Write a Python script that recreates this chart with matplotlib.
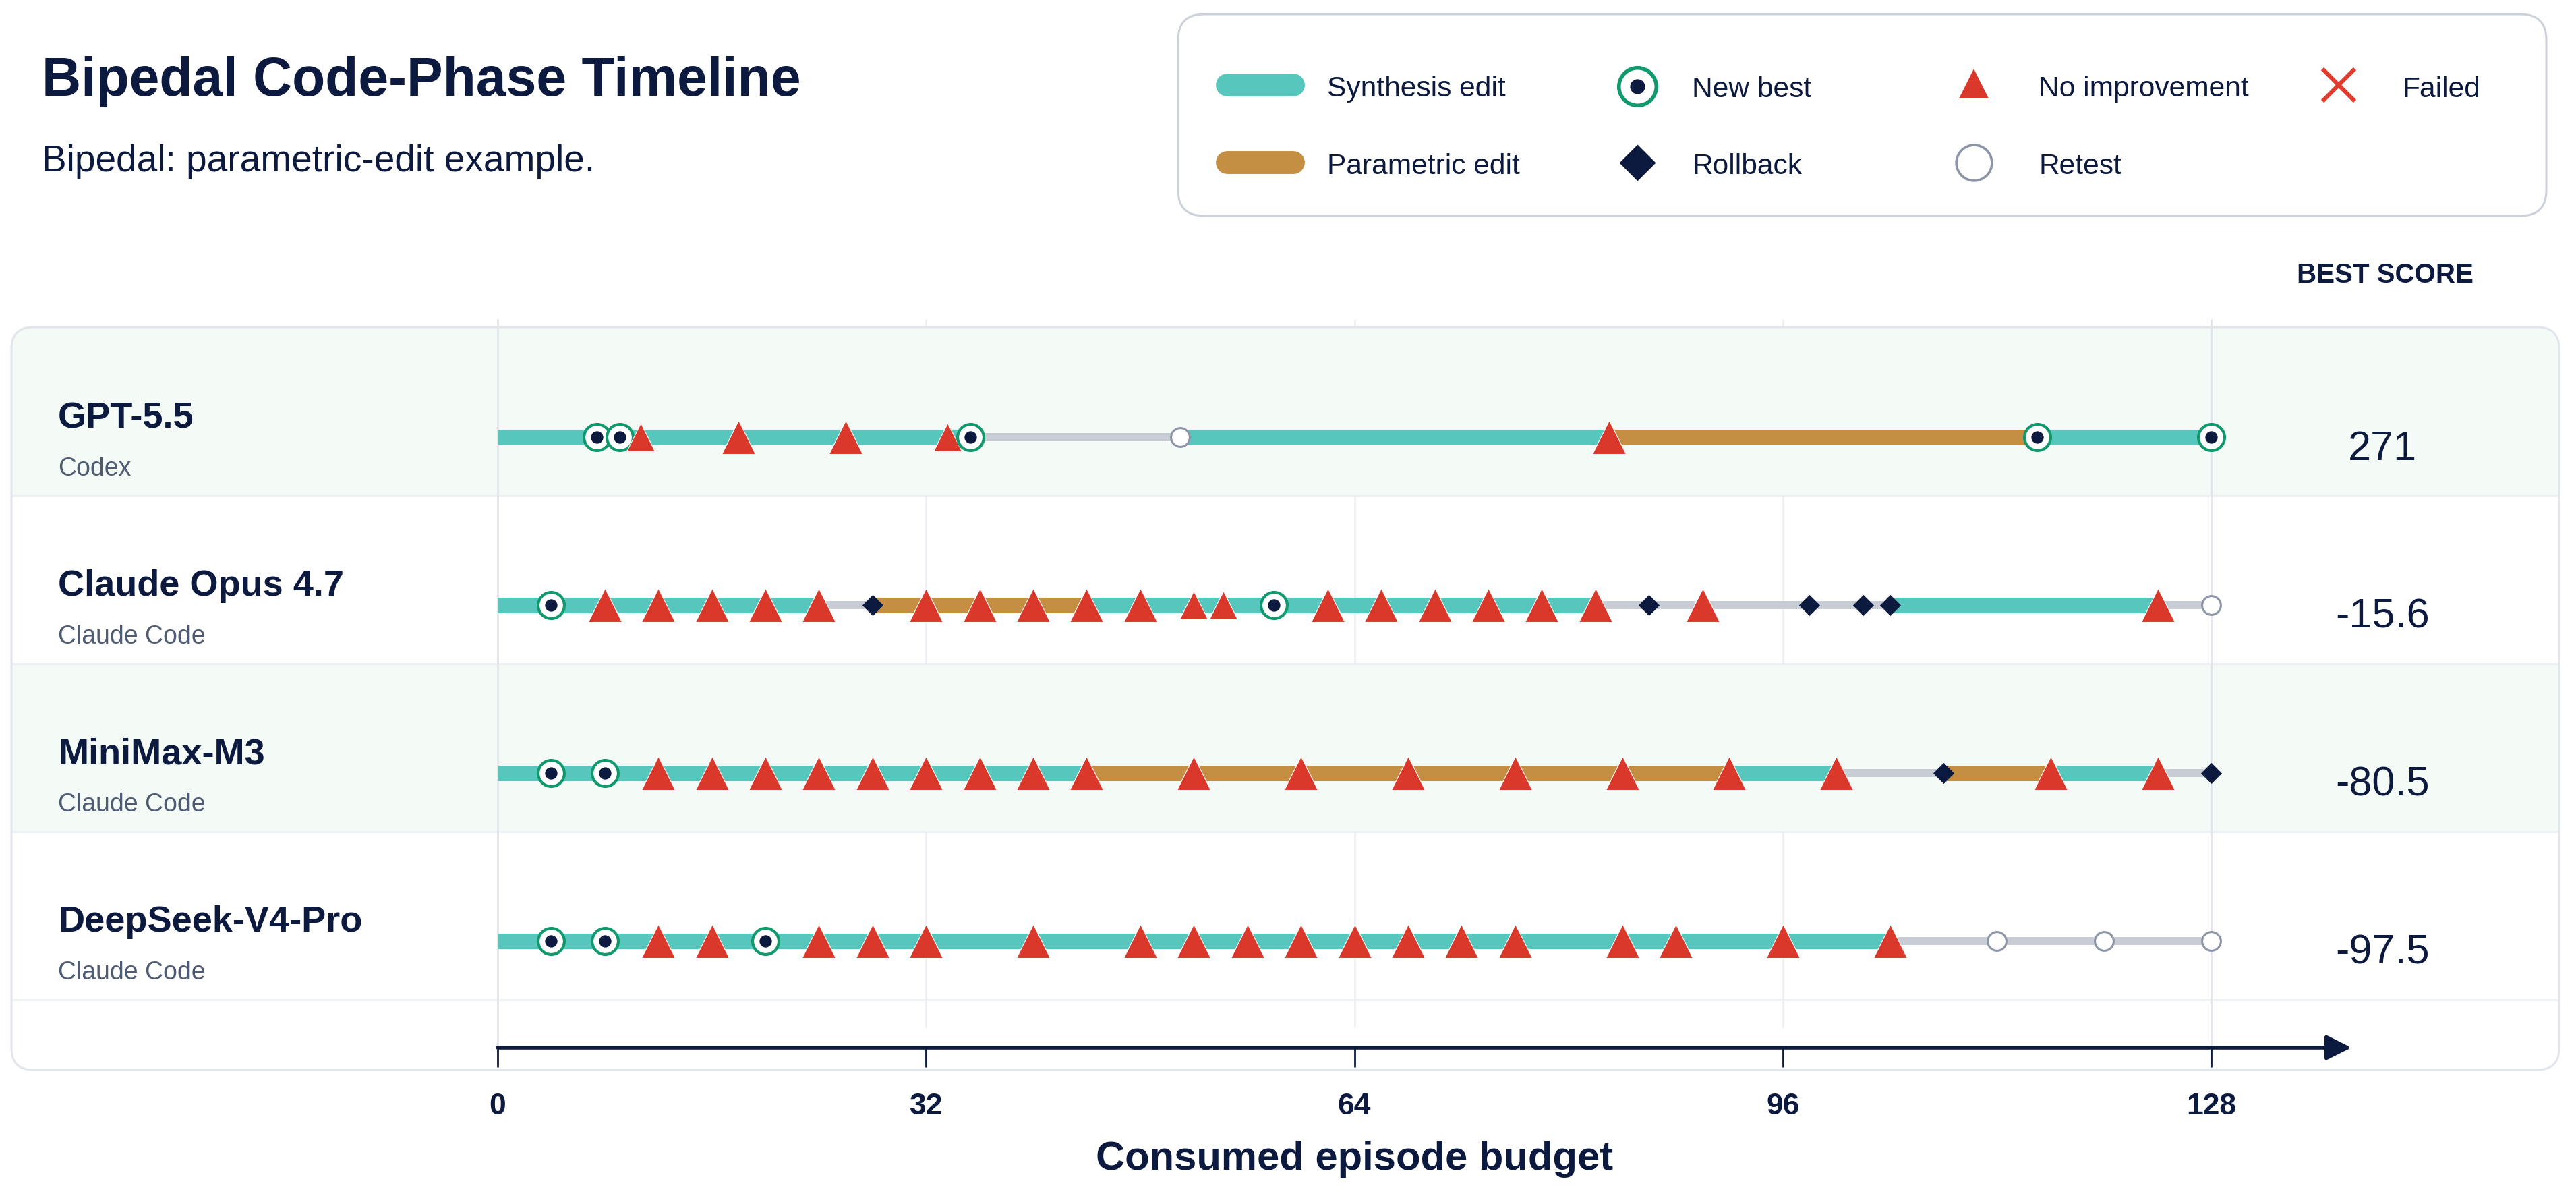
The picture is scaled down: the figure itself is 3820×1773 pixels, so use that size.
import matplotlib.pyplot as plt
from matplotlib.patches import FancyBboxPatch

plt.rcParams['font.family'] = ['Liberation Sans', 'DejaVu Sans']

# ---- data ----
models = ["GPT-5.5", "Claude Opus 4.7", "MiniMax-M3", "DeepSeek-V4-Pro"]
agents = ["Codex", "Claude Code", "Claude Code", "Claude Code"]
best_scores = ["271", "-15.6", "-80.5", "-97.5"]
x_ticks = [0, 32, 64, 96, 128]
budget = 128

# phase segments: (start, end, phase)
gpt_segments = [(0, 35.3, "synthesis"), (35.3, 51, "idle"), (51, 83, "synthesis"),
                (83, 115, "parametric"), (115, 128, "synthesis")]
opus_segments = [(0, 24, "synthesis"), (24, 28, "idle"), (28, 44, "parametric"),
                 (44, 82, "synthesis"), (82, 104, "idle"), (104, 124, "synthesis"),
                 (124, 128, "idle")]
minimax_segments = [(0, 44, "synthesis"), (44, 92, "parametric"), (92, 100, "synthesis"),
                    (100, 108, "idle"), (108, 116, "parametric"), (116, 124, "synthesis"),
                    (124, 128, "idle")]
deepseek_segments = [(0, 104, "synthesis"), (104, 128, "idle")]

# events: (consumed budget, outcome)
gpt_events = [(7.4, "best"), (9.1, "best"), (10.7, "none"), (18, "none"), (26, "none"),
              (33.6, "none"), (35.3, "best"), (51, "retest"), (83, "none"),
              (115, "best"), (128, "best")]
opus_events = [(4, "best"), (8, "none"), (12, "none"), (16, "none"), (20, "none"),
               (24, "none"), (28, "rollback"), (32, "none"), (36, "none"), (40, "none"),
               (44, "none"), (48, "none"), (52, "none"), (54.2, "none"), (58, "best"),
               (62, "none"), (66, "none"), (70, "none"), (74, "none"), (78, "none"),
               (82, "none"), (86, "rollback"), (90, "none"), (98, "rollback"),
               (102, "rollback"), (104, "rollback"), (124, "none"), (128, "retest")]
minimax_events = [(4, "best"), (8, "best"), (12, "none"), (16, "none"), (20, "none"),
                  (24, "none"), (28, "none"), (32, "none"), (36, "none"), (40, "none"),
                  (44, "none"), (52, "none"), (60, "none"), (68, "none"), (76, "none"),
                  (84, "none"), (92, "none"), (100, "none"), (108, "rollback"),
                  (116, "none"), (124, "none"), (128, "rollback")]
deepseek_events = [(4, "best"), (8, "best"), (12, "none"), (16, "none"), (20, "best"),
                   (24, "none"), (28, "none"), (32, "none"), (40, "none"), (48, "none"),
                   (52, "none"), (56, "none"), (60, "none"), (64, "none"), (68, "none"),
                   (72, "none"), (76, "none"), (84, "none"), (88, "none"), (96, "none"),
                   (104, "none"), (112, "retest"), (120, "retest"), (128, "retest")]

all_segments = [gpt_segments, opus_segments, minimax_segments, deepseek_segments]
all_events = [gpt_events, opus_events, minimax_events, deepseek_events]

# ---- styles ----
navy = "#0c1a3f"
teal = "#57c7bd"
gold = "#c58f43"
idle_grey = "#c8ccd5"
red = "#d9382b"
green = "#10996c"
retest_grey = "#8c95a7"
band = "#f4fbf7"
phase_style = {"synthesis": (teal, 8.3), "parametric": (gold, 8.3), "idle": (idle_grey, 4.3)}

W, H, DPI = 3820, 1773, 200
fig = plt.figure(figsize=(W / DPI, H / DPI), dpi=DPI)
fig.patch.set_facecolor("white")

# pixel anchors for the data axes
X0_PX, XMAX_PX = 738, 3279
ROW0_PX, ROW_STEP = 648, 249.1
sx = (XMAX_PX - X0_PX) / budget


def dx(px):
    return (px - X0_PX) / sx


def dy(py):
    return (py - ROW0_PX) / ROW_STEP


ax = fig.add_axes([0, 0, 1, 1])
ax.set_xlim(dx(0), dx(W))
ax.set_ylim(dy(H), dy(0))
ax.axis("off")

ov = fig.add_axes([0, 0, 1, 1], facecolor="none")
ov.set_xlim(0, W)
ov.set_ylim(H, 0)
ov.axis("off")

# panel
panel = FancyBboxPatch((17, 485), 3778, 1101, boxstyle="round,pad=0,rounding_size=32",
                       facecolor="none", edgecolor="#e2e6ec", lw=1.1, zorder=5)
ov.add_patch(panel)

# row bands + separators
for i in range(len(models)):
    if i % 2 == 0:
        b = ax.axhspan(i - 0.653, i + 0.349, color=band, lw=0, zorder=1)
        b.set_clip_path(panel)
    sep = ax.axhline(i + 0.349, color="#e9edf1", lw=0.9, zorder=1.2)
    sep.set_clip_path(panel)

# grid lines
for t in x_ticks:
    if t in (0, budget):
        ax.vlines(t, dy(473), dy(1553), color="#e1e5eb", lw=1.0, zorder=1.5)
    else:
        ax.vlines(t, dy(473), dy(1523), color="#eceff3", lw=0.9, zorder=0.5)

# segments
for i, segs in enumerate(all_segments):
    for s, e, phase in segs:
        c, lw = phase_style[phase]
        ax.plot([s, e], [i, i], color=c, lw=lw, solid_capstyle="butt", zorder=2)

# events
for i, evs in enumerate(all_events):
    xs = [x for x, _ in evs]
    for k, (x, kind) in enumerate(evs):
        z = 3 + k * 0.01
        if kind == "best":
            ax.plot(x, i, "o", ms=14, mfc="white", mec=green, mew=1.5, zorder=z)
            ax.plot(x, i, "o", ms=5.6, color=navy, mec=navy, zorder=z + 0.001)
        elif kind == "none":
            gap = min(abs(x - o) for o in xs if o != x)
            ms = 15 if gap < 2.5 else 18
            ax.plot(x, i, "^", ms=ms, color=red, mec="white", mew=0.4, zorder=z)
        elif kind == "rollback":
            ax.plot(x, i, "D", ms=7.8, color=navy, mec=navy, mew=0.3, zorder=z)
        elif kind == "retest":
            ax.plot(x, i, "o", ms=10, mfc="white", mec=retest_grey, mew=1.1, zorder=z)
        elif kind == "failed":
            ax.plot(x, i, "x", ms=14, color=red, mew=2, zorder=z)

# row labels and scores
for i, (m, a, sc) in enumerate(zip(models, agents, best_scores)):
    ax.text(dx(86), i - 14 / ROW_STEP, m, fontsize=19.5, fontweight="bold", color=navy,
            va="baseline", ha="left", zorder=6)
    ax.text(dx(86), i + 57 / ROW_STEP, a, fontsize=13.5, color="#4f5b73",
            va="baseline", ha="left", zorder=6)
    ax.text(dx(3533), i + 18 / ROW_STEP, sc, fontsize=22, color=navy,
            va="center", ha="center", zorder=6)

# x axis with arrow
y_axis = dy(1553)
ax.annotate("", xy=(dx(3487), y_axis), xytext=(0, y_axis),
            arrowprops=dict(arrowstyle="-|>", color=navy, lw=2.0, mutation_scale=28,
                            shrinkA=0, shrinkB=0), zorder=6)
ax.vlines(x_ticks, y_axis, dy(1582), color=navy, lw=1.0, zorder=6)
for t in x_ticks:
    ax.text(t, dy(1641), str(t), fontsize=16, fontweight="bold", color=navy,
            ha="center", va="center")
ax.text(budget / 2, dy(1718), "Consumed episode budget", fontsize=21.5, fontweight="bold",
        color=navy, ha="center", va="center")

# title block
ov.text(62, 142, "Bipedal Code-Phase Timeline", fontsize=29, fontweight="bold",
        color=navy, va="baseline", ha="left")
ov.text(62, 254, "Bipedal: parametric-edit example.", fontsize=19.8, color=navy,
        va="baseline", ha="left")
ov.text(3537, 408, "BEST SCORE", fontsize=14.5, fontweight="bold", color=navy,
        ha="center", va="center")

# legend box
ov.add_patch(FancyBboxPatch((1747, 21), 2029, 299, boxstyle="round,pad=0,rounding_size=38",
                            facecolor="white", edgecolor="#cdd2da", lw=1.1, zorder=5))
r1, r2 = 126, 241
ov.plot([1820, 1918], [r1, r1], color=teal, lw=12.2, solid_capstyle="round", zorder=6)
ov.plot([1820, 1918], [r2, r2], color=gold, lw=12.2, solid_capstyle="round", zorder=6)
ov.plot(2428, r1 + 2, "o", ms=20, mfc="white", mec=green, mew=2.0, zorder=6)
ov.plot(2428, r1 + 2, "o", ms=7, color=navy, zorder=7)
ov.plot(2428, r2, "D", ms=12.5, color=navy, zorder=6)
ov.plot(2927, r1 - 2, "^", ms=16, color=red, mew=0, zorder=6)
ov.plot(2927, r2, "o", ms=19, mfc="white", mec=retest_grey, mew=1.3, zorder=6)
ov.plot(3468, r1, "x", ms=17, color="#e03a2c", mew=2.2, zorder=6)
leg_texts = [(1968, r1, "Synthesis edit"), (2509, r1, "New best"), (3023, r1, "No improvement"),
             (3562, r1, "Failed"), (1968, r2, "Parametric edit"), (2509, r2, "Rollback"),
             (3023, r2, "Retest")]
for x, y, s in leg_texts:
    ov.text(x, y + 2, s, fontsize=15.3, color=navy, ha="left", va="center_baseline", zorder=7)

fig.savefig("out.png", dpi=DPI, facecolor="white")
